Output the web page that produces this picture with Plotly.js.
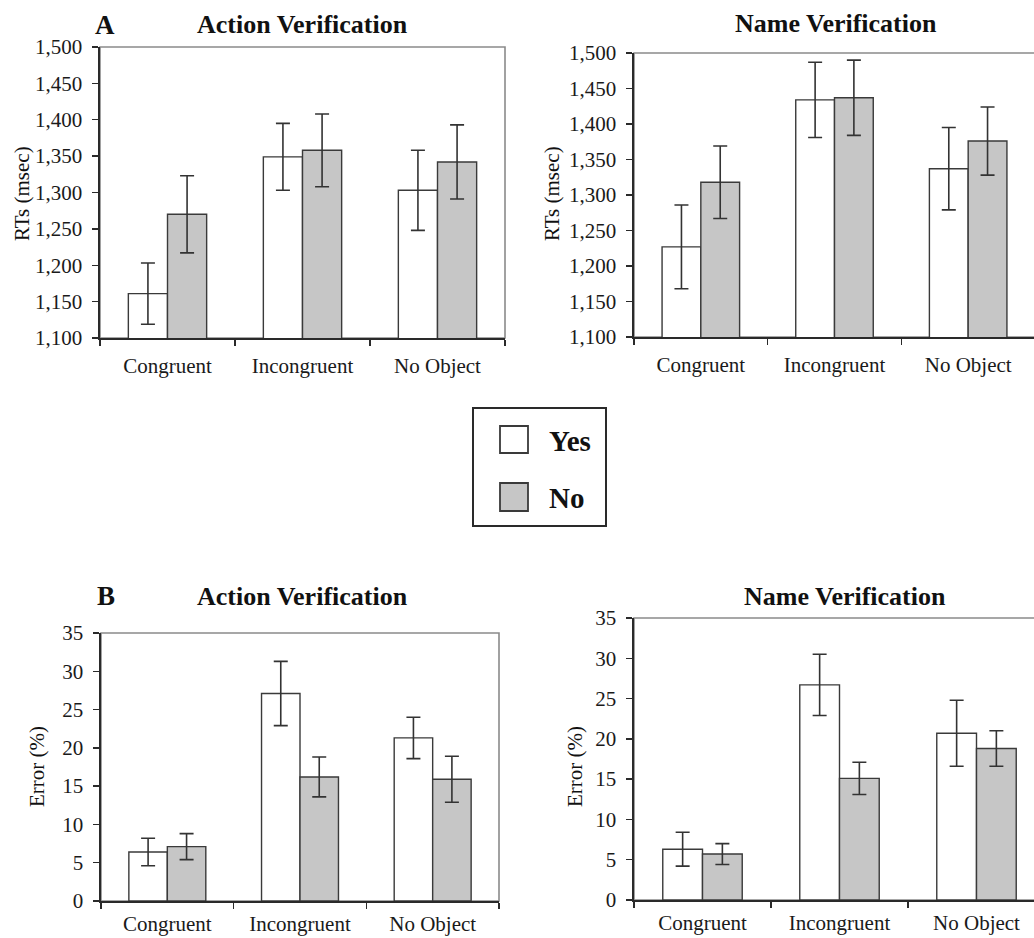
<!DOCTYPE html>
<html>
<head>
<meta charset="utf-8">
<script src="https://cdn.plot.ly/plotly-3.0.1.min.js"></script>
<style>
html, body { margin: 0; padding: 0; overflow: hidden; background: #fff; }
#chart { width: 1050px; height: 938px; }
</style>
</head>
<body>
<div id="chart"></div>
<script>
// ---- Data ----
const categories = ["Congruent", "Incongruent", "No Object"];
const seriesNames = ["Yes", "No"];

// Panel A: reaction times (msec)
const actionRtYes = [1161, 1349, 1303];
const actionRtYesErr = [42, 46, 55];
const actionRtNo = [1270, 1358, 1342];
const actionRtNoErr = [53, 50, 51];

const nameRtYes = [1227, 1434, 1337];
const nameRtYesErr = [59, 53, 58];
const nameRtNo = [1318, 1437, 1376];
const nameRtNoErr = [51, 53, 48];

// Panel B: error rates (%)
const actionErrYes = [6.4, 27.1, 21.3];
const actionErrYesErr = [1.8, 4.2, 2.7];
const actionErrNo = [7.1, 16.2, 15.9];
const actionErrNoErr = [1.7, 2.6, 3.0];

const nameErrYes = [6.3, 26.7, 20.7];
const nameErrYesErr = [2.1, 3.8, 4.1];
const nameErrNo = [5.7, 15.1, 18.8];
const nameErrNoErr = [1.3, 2.0, 2.2];

const panelTitles = ["Action Verification", "Name Verification", "Action Verification", "Name Verification"];
const panelLetters = ["A", "B"];
const yTitles = ["RTs (msec)", "Error (%)"];

// ---- Layout helpers ----
const W = 1050, H = 938;
const px = v => v / W;
const py = v => 1 - v / H;

const FONT = "'Liberation Serif', 'Times New Roman', serif";
const TXT = "#1a1a1a";
const yesFill = "#ffffff";
const noFill = "#c6c6c6";
const edge = "#3a3a3a";
const errColor = "#333333";

function barTrace(name, y, err, fill, ax) {
  return {
    type: "bar",
    name: name,
    x: categories,
    y: y,
    xaxis: "x" + ax,
    yaxis: "y" + ax,
    marker: { color: fill, line: { color: edge, width: 1.4 } },
    error_y: { type: "data", array: err, visible: true, color: errColor, thickness: 1.6, width: 7 },
    showlegend: false,
    hoverinfo: "skip"
  };
}

const data = [
  barTrace(seriesNames[0], actionRtYes, actionRtYesErr, yesFill, ""),
  barTrace(seriesNames[1], actionRtNo, actionRtNoErr, noFill, ""),
  barTrace(seriesNames[0], nameRtYes, nameRtYesErr, yesFill, "2"),
  barTrace(seriesNames[1], nameRtNo, nameRtNoErr, noFill, "2"),
  barTrace(seriesNames[0], actionErrYes, actionErrYesErr, yesFill, "3"),
  barTrace(seriesNames[1], actionErrNo, actionErrNoErr, noFill, "3"),
  barTrace(seriesNames[0], nameErrYes, nameErrYesErr, yesFill, "4"),
  barTrace(seriesNames[1], nameErrNo, nameErrNoErr, noFill, "4")
];
data[0].xaxis = "x"; data[0].yaxis = "y";
data[1].xaxis = "x"; data[1].yaxis = "y";

// plot boxes in pixels [left, right, top, bottom]
const boxes = [
  [100, 505, 47, 338],
  [634, 1035, 53, 337],
  [101, 499, 633, 901],
  [634, 1045, 618, 900]
];

function xAxis(i, standoff) {
  const b = boxes[i];
  return {
    domain: [px(b[0]), px(b[1])],
    anchor: i === 0 ? "y" : "y" + (i + 1),
    type: "category",
    range: [-0.5, 2.5],
    showline: true, linecolor: "#2a2a2a", linewidth: 1.6,
    ticks: "outside", tickson: "boundaries", ticklen: 6, tickwidth: 1.4, tickcolor: "#2a2a2a",
    ticklabelstandoff: standoff,
    showgrid: false, zeroline: false, fixedrange: true,
    tickfont: { family: FONT, size: 21, color: TXT }
  };
}
function yAxis(i, range, dtick, fmt) {
  const b = boxes[i];
  return {
    domain: [py(b[3]), py(b[2])],
    anchor: i === 0 ? "x" : "x" + (i + 1),
    range: range, dtick: dtick, tick0: range[0], tickformat: fmt,
    showline: true, linecolor: "#2a2a2a", linewidth: 1.6,
    ticks: "outside", ticklen: 6, tickwidth: 1.4, tickcolor: "#2a2a2a",
    ticklabelstandoff: 6,
    showgrid: false, zeroline: false, fixedrange: true,
    tickfont: { family: FONT, size: 21, color: TXT }
  };
}

const shapes = [];
boxes.forEach((b) => {
  shapes.push({
    type: "rect", xref: "paper", yref: "paper",
    x0: px(b[0]), x1: px(b[1]), y0: py(b[3]), y1: py(b[2]),
    line: { color: "#8a8a8a", width: 1.6 }, fillcolor: "rgba(0,0,0,0)", layer: "below"
  });
});

// legend box & swatches
shapes.push({ type: "rect", xref: "paper", yref: "paper", x0: px(473), x1: px(606), y0: py(526), y1: py(408),
  line: { color: "#2a2a2a", width: 2 }, fillcolor: "#ffffff" });
shapes.push({ type: "rect", xref: "paper", yref: "paper", x0: px(500), x1: px(528), y0: py(453), y1: py(426),
  line: { color: "#3a3a3a", width: 1.8 }, fillcolor: yesFill });
shapes.push({ type: "rect", xref: "paper", yref: "paper", x0: px(500), x1: px(528), y0: py(511), y1: py(483),
  line: { color: "#3a3a3a", width: 1.8 }, fillcolor: noFill });

function ann(text, x, y, size, bold, extra) {
  return Object.assign({
    text: bold ? "<b>" + text + "</b>" : text,
    xref: "paper", yref: "paper", x: px(x), y: py(y),
    xanchor: "center", yanchor: "middle", showarrow: false,
    font: { family: FONT, size: size, color: "#111" }
  }, extra || {});
}

const annotations = [
  ann(panelTitles[0], 302, 25, 26, true),
  ann(panelTitles[1], 836, 24, 26, true),
  ann(panelTitles[2], 302, 596, 26, true),
  ann(panelTitles[3], 845, 596, 26, true),
  ann(panelLetters[0], 105, 25, 27, true),
  ann(panelLetters[1], 106, 596, 27, true),
  ann(yTitles[0], 22, 194, 21, false, { textangle: -90 }),
  ann(yTitles[0], 552, 194, 21, false, { textangle: -90 }),
  ann(yTitles[1], 37, 767, 21, false, { textangle: -90 }),
  ann(yTitles[1], 575, 767, 21, false, { textangle: -90 }),
  ann(seriesNames[0], 547, 441, 29, true, { xanchor: "left" }),
  ann(seriesNames[1], 547, 498, 29, true, { xanchor: "left" })
];

const layout = {
  width: W, height: H,
  margin: { l: 0, r: 0, t: 0, b: 0, pad: 0 },
  paper_bgcolor: "#ffffff", plot_bgcolor: "rgba(0,0,0,0)",
  barmode: "group", bargap: 0.42, bargroupgap: 0,
  showlegend: false,
  font: { family: FONT, color: TXT },
  xaxis: xAxis(0, 8), yaxis: yAxis(0, [1100, 1500], 50, ",d"),
  xaxis2: xAxis(1, 8), yaxis2: yAxis(1, [1100, 1500], 50, ",d"),
  xaxis3: xAxis(2, 3), yaxis3: yAxis(2, [0, 35], 5, "d"),
  xaxis4: xAxis(3, 3), yaxis4: yAxis(3, [0, 35], 5, "d"),
  shapes: shapes,
  annotations: annotations
};

Plotly.newPlot("chart", data, layout, { staticPlot: true, displayModeBar: false });
</script>
</body>
</html>
